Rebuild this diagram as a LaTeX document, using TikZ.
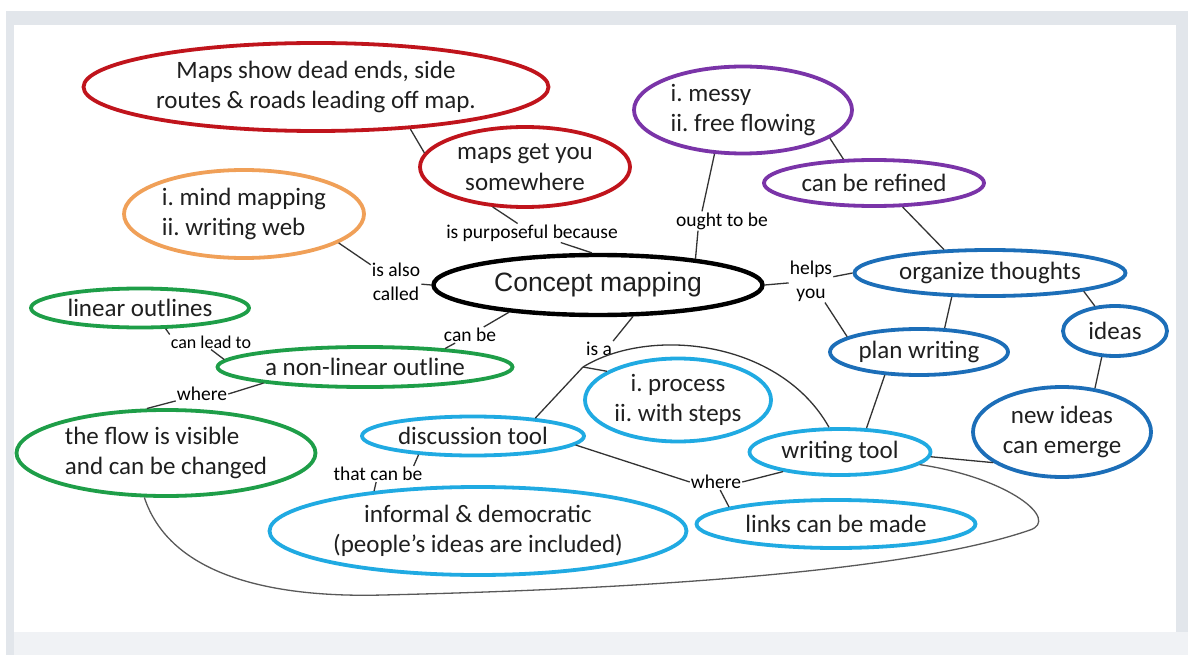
\documentclass[tikz,border=0pt]{standalone}
\usepackage{fontspec}
\setmainfont{Carlito}
\newfontfamily\headfont{Liberation Sans}
\usepackage{xcolor}
\usepackage{tikz}
\usetikzlibrary{shapes.geometric}
\definecolor{mapred}{RGB}{192,20,28}
\definecolor{mindorange}{RGB}{240,160,88}
\definecolor{outlinegreen}{RGB}{30,158,72}
\definecolor{messypurple}{RGB}{122,52,168}
\definecolor{thinkblue}{RGB}{28,110,184}
\definecolor{toolblue}{RGB}{32,170,226}
\definecolor{framegray}{RGB}{226,230,235}
\definecolor{basegray}{RGB}{240,242,245}
\frenchspacing

\begin{document}
\begin{tikzpicture}[
  x=1pt, y=-1pt,
  every node/.style={font=\fontsize{25}{30.5}\selectfont, text=black!88},
  bubble/.style={draw, ellipse, line width=3.8pt, inner sep=0pt, align=center},
  cue/.style={font=\fontsize{19.5}{24}\selectfont, text=black, inner sep=1pt, align=center},
  link/.style={draw=black!80, line width=1.3pt}
]
  % Slide frame (page is 1188 x 655)
  \useasboundingbox (0,0) rectangle (1188,655);
  \fill[framegray] (6,11) rectangle (1188,655);
  \fill[white] (14,25) rectangle (1176,632);
  \fill[basegray] (14,632) rectangle (1188,655);

  % Central concept
  \node[bubble, line width=4.4pt, minimum width=329pt, minimum height=60pt, font=\headfont\fontsize{26.5}{30}\selectfont] (concept) at (598,285) {Concept mapping};

  % Red: maps
  \node[bubble, draw=mapred, minimum width=465pt, minimum height=88pt] (roads) at (316,87) {Maps show dead ends, side\\routes \& roads leading off map.};
  \node[bubble, draw=mapred, minimum width=210pt, minimum height=80pt] (somewhere) at (525,167) {maps get you\\somewhere};

  % Orange and purple
  \node[bubble, draw=mindorange, align=left, minimum width=240pt, minimum height=88pt] (mindmap) at (244,214) {i. mind mapping\\ii. writing web};
  \node[bubble, draw=messypurple, align=left, minimum width=218pt, minimum height=87pt] (messy) at (743,110) {i. messy\\ii. free flowing};
  \node[bubble, draw=messypurple, minimum width=220pt, minimum height=46pt] (refined) at (874,183) {can be refined};

  % Dark blue: thinking
  \node[bubble, draw=thinkblue, minimum width=271pt, minimum height=46pt] (organize) at (990,273) {organize thoughts};
  \node[bubble, draw=thinkblue, minimum width=104pt, minimum height=50pt] (ideas) at (1115,331) {ideas};
  \node[bubble, draw=thinkblue, minimum width=178pt, minimum height=46pt] (plan) at (919,352) {plan writing};
  \node[bubble, draw=thinkblue, minimum width=178pt, minimum height=90pt] (emerge) at (1062,432) {new ideas\\can emerge};

  % Light blue: tools
  \node[bubble, draw=toolblue, minimum width=186pt, minimum height=83pt] (process) at (678,400) {i. process\\ii. with steps};
  \node[bubble, draw=toolblue, minimum width=181pt, minimum height=46pt] (wtool) at (840,452) {writing tool};
  \node[bubble, draw=toolblue, minimum width=279pt, minimum height=48pt] (links) at (836,524) {links can be made};
  \node[bubble, draw=toolblue, minimum width=222pt, minimum height=39pt] (dtool) at (473,436) {discussion tool};
  \node[bubble, draw=toolblue, minimum width=417pt, minimum height=88pt] (informal) at (478,531) {informal \& democratic\\(people’s ideas are included)};

  % Green: outlines
  \node[bubble, draw=outlinegreen, minimum width=218pt, minimum height=39pt] (linear) at (140,308) {linear outlines};
  \node[bubble, draw=outlinegreen, minimum width=295pt, minimum height=40pt] (nonlinear) at (365,367) {a non-linear outline};
  \node[bubble, draw=outlinegreen, align=left, minimum width=299pt, minimum height=86pt] (flow) at (166,453) {the flow is visible\\and can be changed};

  % Link words
  \node[cue] (purpose) at (532,233) {is purposeful because};
  \node[cue] (ought) at (722,221) {ought to be};
  \node[cue] (called) at (396,282) {is also\\called};
  \node[cue] (helps) at (811,281) {helps\\you};
  \node[cue] (canbe) at (470,335) {can be};
  \node[cue] (isa) at (599,349) {is a};
  \node[cue, font=\fontsize{18}{22}\selectfont] (leadto) at (211,342) {can lead to};
  \node[cue] (where1) at (202,394) {where};
  \node[cue] (thatcan) at (378,474) {that can be};
  \node[cue] (where2) at (716,482) {where};

  % Top half
  \draw[link] (roads.-24) -- (somewhere.172);
  \draw[link] (somewhere.-129) -- (purpose);
  \draw[link] (purpose) -- (concept.101);
  \draw[link] (mindmap.-17) -- (called);
  \draw[link] (called) -- (concept.west);
  \draw[link] (messy.-123) -- ([xshift=-20pt]ought.north);
  \draw[link] ([xshift=-24pt]ought.south) -- (concept.15);
  \draw[link] (messy.-18) -- (refined.142);
  \draw[link] (refined.-40) -- (organize.153);

  % Right side
  \draw[link] (concept.east) -- (helps);
  \draw[link] (helps) -- (organize.west);
  \draw[link] (helps) -- (plan.168);
  \draw[link] (organize.-148) -- (plan.43);
  \draw[link] (organize.-11) -- (ideas.129);
  \draw[link] (ideas.-117) -- (emerge.53);
  \draw[link] (plan.-146) -- (wtool.42);
  \draw[link] (wtool.-3) -- (emerge.-156);

  % "is a" branches
  \draw[link] (concept.-42) -- (isa.north east);
  \coordinate (isafork) at (583,367);
  \draw[link] (isafork) -- (process.158);
  \draw[link] (isafork) -- (dtool.16);
  \draw[link] (isafork) .. controls (650,326) and (780,340) .. (wtool.114);

  % Left side
  \draw[link] (concept.-163) -- (canbe);
  \draw[link] (canbe) -- (nonlinear.13);
  \draw[link] (linear.-39) -- (leadto.north west);
  \draw[link] (leadto.south) -- (nonlinear.177);
  \draw[link] (nonlinear.-171) -- (where1.east);
  \draw[link] (where1) -- (flow.113);

  % Bottom row
  \draw[link] (dtool.-161) -- ([xshift=-10pt]thatcan.north east);
  \draw[link] (thatcan) -- (informal.159);
  \draw[link] (dtool.-5) -- (where2.west);
  \draw[link] (wtool.-161) -- (where2.east);
  \draw[link] (where2) -- (links.171);

  % Long loop from the flow bubble round to the writing tool
  \draw[link, draw=black!65] (flow.-116) .. controls (170,575) and (270,598) .. (383,595)
    .. controls (600,590) and (900,575) .. (1030,530)
    .. controls (1060,520) and (1010,478) .. (wtool.-9);
\end{tikzpicture}
\end{document}
